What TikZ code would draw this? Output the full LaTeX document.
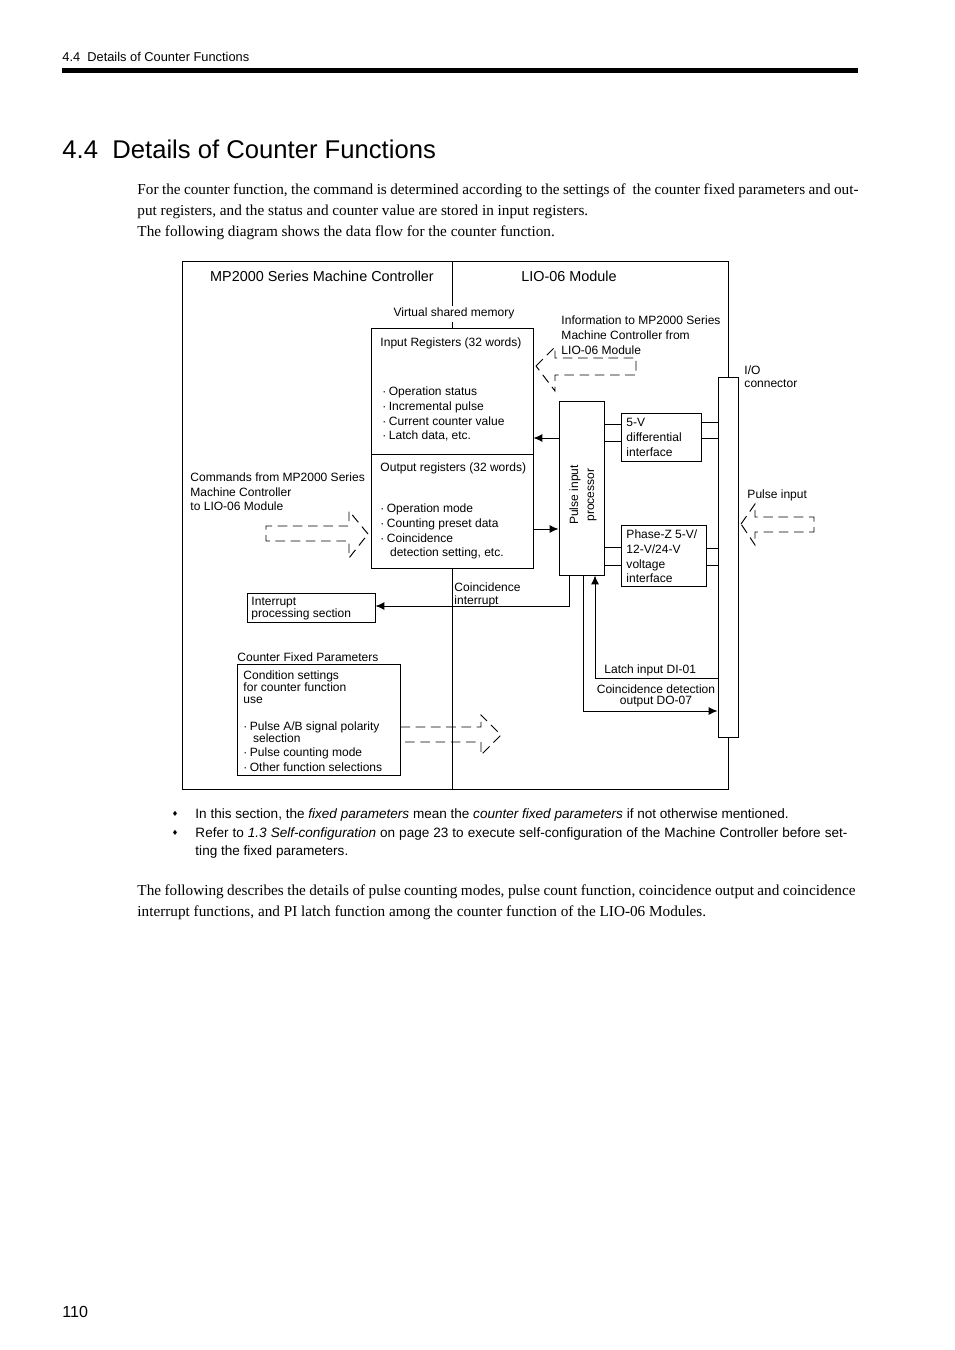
\documentclass[tikz,border=0pt]{standalone}
\usepackage{fontspec}
\setmainfont{Liberation Serif}
\setsansfont{Liberation Sans}
\newfontfamily\dejavu{DejaVu Sans}
\usetikzlibrary{arrows.meta,fit}
\newcommand{\bdot}{·\hspace{1.5pt}}

\begin{document}
\begin{tikzpicture}[x=0.62398pt, y=-0.62398pt, line width=0.6pt,
  >={Latex[length=5.6pt,width=5pt]},
  txt/.style={inner sep=0pt, anchor=north west, align=left, font=\sffamily\fontsize{7.5}{#1}\selectfont},
  txt/.default=9.15pt,
  head/.style={inner sep=0pt, font=\sffamily\fontsize{9}{11}\selectfont},
  box/.style={draw, fill=white, inner sep=0pt},
  blk/.style={dash pattern=on 6pt off 3.5pt},
  body/.style={inner sep=0pt, anchor=base west, font=\rmfamily\fontsize{9.5}{13}\selectfont},
  note/.style={inner sep=0pt, anchor=base west, font=\sffamily\fontsize{8.45}{11}\selectfont}]

\path[use as bounding box, fill=white] (0,0) rectangle (954,1350);

% page head
\node[inner sep=0pt, anchor=base west, font=\sffamily\fontsize{8}{10}\selectfont] (runhead) at (62,61.5) {4.4\ \ Details of Counter Functions};
\fill (62,68) rectangle (858,73);
\node[inner sep=0pt, anchor=base west, font=\sffamily\fontsize{16}{19}\selectfont] (title) at (62,159) {4.4\ \ Details of Counter Functions};

\node[body] (par1) at (137,195) {\hbox to 449.9pt{For the counter function, the command is determined according to the settings of\ \ the counter fixed parameters and out-}};
\node[body] (par2) at (137,216) {put registers, and the status and counter value are stored in input registers.};
\node[body] (par3) at (137,237) {The following diagram shows the data flow for the counter function.};

% frame
\draw (182,261) rectangle (728,789);
\draw (452,261) -- (452,789);
\node[head] (mpc) at (322,276) {MP2000 Series Machine Controller};
\node[head] (lio) at (569,276) {LIO-06 Module};
\node[txt, anchor=base, fill=white, inner sep=1.5pt] (vsm) at (454,317) {Virtual shared memory};

% boxes
\node[box, fit={(371,328) (533,454)}] (inreg) {};
\node[box, fit={(371,454) (533,568)}] (outreg) {};
\node[box, fit={(559,401) (604,575)}] (proc) {};
\node[box, fit={(621,413) (701,461)}] (difif) {};
\node[box, fit={(621,525) (706,586)}] (volif) {};
\node[box, fit={(718,377) (738,737)}] (ioc) {};
\node[box, fit={(247,593) (375,622)}] (intr) {};
\node[box, fit={(237,664) (400,775)}] (fixp) {};

\node[txt] (inttl) at (380,337.5) {Input Registers (32 words)};
\node[txt] (inlst) at (382,386.5) {\bdot Operation status\\\bdot Incremental pulse\\\bdot Current counter value\\\bdot Latch data, etc.};
\node[txt] (outttl) at (380,462.5) {Output registers (32 words)};
\node[txt] (outlst) at (380,503.5) {\bdot Operation mode\\\bdot Counting preset data\\\bdot Coincidence\\\hspace*{6pt}detection setting, etc.};
\node[txt, anchor=center, align=center, rotate=90, font=\sffamily\fontsize{7.5}{10}\selectfont] (proctxt) at (583,495) {Pulse input\\processor};
\node[txt=9.36pt] (diftxt) at (626,417.5) {5-V\\differential\\interface};
\node[txt] (voltxt) at (626,529.5) {Phase-Z 5-V/\\12-V/24-V\\voltage\\interface};
\node[txt=8.1pt] (ioctxt) at (744,365.5) {I/O\\connector};
\node[txt] (pulsetxt) at (747,489.5) {Pulse input};
\node[txt=9.36pt] (infotxt) at (561,315.5) {Information to MP2000 Series\\Machine Controller from\\LIO-06 Module};
\node[txt=9.05pt] (cmdtxt) at (190,472.5) {Commands from MP2000 Series\\Machine Controller\\to LIO-06 Module};
\node[txt=7.5pt] (inttxt) at (251,596.5) {Interrupt\\processing section};
\node[txt=8.1pt] (cointtxt) at (454,582.5) {Coincidence\\interrupt};
\node[txt] (fixttl) at (237,652.5) {Counter Fixed Parameters};
\node[txt=7.5pt] (fixtxt) at (243,670.5) {Condition settings\\for counter function\\use};
\node[txt=7.5pt] (fixlst) at (243,721.5) {\bdot Pulse A/B signal polarity\\\hspace*{6pt}selection\\[1.25pt]\bdot Pulse counting mode\\[1.9pt]\bdot Other function selections};
\node[txt] (latchtxt) at (604,664.5) {Latch input DI-01};
\node[txt=6.9pt, anchor=north, align=center] (cdotxt) at (656,684.5) {Coincidence detection\\output DO-07};

% signal lines
\draw[->] (proc.west |- 0,438) -- (inreg.east |- 0,438);
\draw[->] (outreg.east |- 0,529) -- (proc.west |- 0,529);
\foreach \y in {424,441} \draw (proc.east |- 0,\y) -- (difif.west |- 0,\y);
\foreach \y in {422,438} \draw (difif.east |- 0,\y) -- (ioc.west |- 0,\y);
\foreach \y in {547,565} \draw (proc.east |- 0,\y) -- (volif.west |- 0,\y);
\foreach \y in {548,565} \draw (volif.east |- 0,\y) -- (ioc.west |- 0,\y);
\draw[->] (proc.south -| 569,0) |- (intr.east |- 0,606);
\draw[->] (ioc.west |- 0,678) -| (proc.south -| 595,0);
\draw[->] (proc.south -| 583,0) |- (ioc.west |- 0,711);

% dashed block arrows
\draw[blk] (536,366) -- (555,347) -- (555,358) -- (636,358) -- (636,375) -- (555,375) -- (555,391) -- cycle;
\draw[blk] (368,534) -- (349,511) -- (349,526) -- (266,526) -- (266,541) -- (349,541) -- (349,558) -- cycle;
\draw[blk] (fixp.east |- 0,727) -- (481,727) -- (481,715) -- (501,735) -- (481,755) -- (481,742) -- (fixp.east |- 0,742);
\draw[blk] (741,524) -- (755,504) -- (755,517) -- (814,517) -- (814,532) -- (755,532) -- (755,545) -- cycle;

% notes
\node[inner sep=0pt, font=\dejavu\fontsize{4.5}{5}\selectfont] (bul1) at (175,814) {♦};
\node[inner sep=0pt, font=\dejavu\fontsize{4.5}{5}\selectfont] (bul2) at (175,833) {♦};
\node[note] (n1) at (195,818.8) {In this section, the \textit{fixed parameters} mean the \textit{counter fixed parameters} if not otherwise mentioned.};
\node[note] (n2) at (195,837.8) {\hbox to 406.8pt{Refer to \textit{1.3 Self-configuration} on page 23 to execute self-configuration of the Machine Controller before set-}};
\node[note] (n3) at (195,855.8) {ting the fixed parameters.};

\node[body] (par4) at (137,895) {\hbox to 448pt{The following describes the details of pulse counting modes, pulse count function, coincidence output and coincidence}};
\node[body] (par5) at (137,916) {interrupt functions, and PI latch function among the counter function of the LIO-06 Modules.};

\node[inner sep=0pt, anchor=base west, font=\sffamily\fontsize{10}{12}\selectfont] (pgno) at (62,1317) {110};
\end{tikzpicture}
\end{document}
